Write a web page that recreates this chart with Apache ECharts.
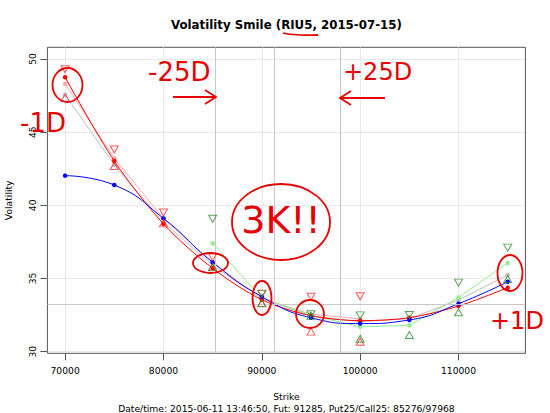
<!DOCTYPE html>
<html><head><meta charset="utf-8">
<script src="https://cdn.jsdelivr.net/npm/echarts@6/dist/echarts.min.js"></script>
<style>html,body{margin:0;padding:0;background:#fff}#c{width:550px;height:413px}</style>
</head><body><div id="c"></div>
<script>
// ---- data ----
const strikes   = [70000, 75000, 80000, 85000, 90000, 95000, 100000, 105000, 110000, 115000];
const fitBlue   = [42.03, 41.39, 39.11, 36.11, 33.76, 32.32, 31.92, 32.17, 33.28, 34.78];
const fitRed    = [48.75, 43.03, 38.73, 35.70, 33.55, 32.46, 32.12, 32.32, 33.12, 34.37];
const theorGray = [47.56, 42.76, 38.85, 35.90, 33.62, 32.45, 32.05, 32.25, 33.53, 35.24];
const midPink   = [48.31, 43.22, 39.10, 36.10, 33.62, 32.57, 32.24, null, null, null];
const askRed    = [49.30, 43.82, 39.51, 36.45, 33.95, 33.76, 33.79, null, null, null];
const bidRed    = [47.36, 42.69, 38.77, 35.78, 33.30, 31.37, 30.68, null, null, null];
const midGreen  = [null, null, null, 37.41, 33.66, 32.50, 31.70, 31.80, 33.70, 36.06];
const askGreen  = [null, null, null, 39.08, 33.97, 32.56, 32.48, 32.51, 34.72, 37.11];
const bidGreen  = [null, null, null, 35.76, 33.32, 32.45, 30.88, 31.14, 32.69, 34.97];
const xTicks = [70000, 80000, 90000, 100000, 110000];
const yTicks = [30, 35, 40, 45, 50];
const vLines = [85276, 91285, 97968];   // Put25, Fut, Call25
const hLines = [33.24];
const titleText = 'Volatility Smile (RIU5, 2015-07-15)';
const xName = 'Strike';
const yName = 'Volatility';
const subText = 'Date/time: 2015-06-11 13:46:50, Fut: 91285, Put25/Call25: 85276/97968';

function pairs(arr) {
  const out = [];
  strikes.forEach((k, i) => { if (arr[i] != null) out.push([k, arr[i]]); });
  return out;
}

const FONT = '"DejaVu Sans", sans-serif';
const HFONT = '"DejaVu Sans ExtraLight", "DejaVu Sans", sans-serif';
const G = { left: 47.4, right: 24.6, top: 47.3, bottom: 59.7 };
const cx = G.left + (550 - G.left - G.right) / 2;
const RED = '#ff0000', HAND = '#e60000';

function lineS(arr, color, smooth, z) {
  return { type: 'line', data: pairs(arr), smooth: smooth, showSymbol: true, symbol: 'circle',
    symbolSize: 4.5, itemStyle: { color: color }, lineStyle: { color: color, width: 1 },
    z: z, silent: true, animation: false };
}
function triS(arr, color, down) {
  return { type: 'scatter', data: pairs(arr), symbol: 'triangle', symbolRotate: down ? 180 : 0,
    symbolSize: [8, 7], itemStyle: { color: 'rgba(255,255,255,0)', borderColor: color, borderWidth: 1 },
    z: 6, silent: true, animation: false };
}
function hand(text, x, y, size, align) {
  return { type: 'text', x: x, y: y, z: 60, style: { text: text, font: size + 'px ' + HFONT, fill: HAND,
    textAlign: align || 'left', textVerticalAlign: 'middle' } };
}
function ell(cxp, cyp, rx, ry) {
  return { type: 'ellipse', z: 60, shape: { cx: cxp, cy: cyp, rx: rx, ry: ry }, style: { stroke: HAND, lineWidth: 1.8, fill: 'none' } };
}
function pl(points) {
  return { type: 'polyline', z: 60, shape: { points: points }, style: { stroke: HAND, lineWidth: 1.8, fill: 'none' } };
}

const chart = echarts.init(document.getElementById('c'), null, { renderer: 'svg' });
chart.setOption({
  animation: false,
  backgroundColor: '#fff',
  grid: { left: G.left, right: G.right, top: G.top, bottom: G.bottom, show: true,
          borderColor: '#555', borderWidth: 1, backgroundColor: 'transparent' },
  xAxis: {
    type: 'value', min: 68200, max: 116800,
    axisLine: { show: false },
    axisTick: { show: true, length: 7, customValues: xTicks, lineStyle: { color: '#555' } },
    axisLabel: { customValues: xTicks, fontSize: 9.2, fontFamily: FONT, color: '#000', margin: 13,
                 formatter: v => String(v) },
    splitLine: { show: true, lineStyle: { type: 'dotted', color: '#d3d3d3', width: 1 } }
  },
  yAxis: {
    type: 'value', min: 29.89, max: 50.8,
    axisLine: { show: false },
    axisTick: { show: true, length: 7, customValues: yTicks, lineStyle: { color: '#555' } },
    axisLabel: { customValues: yTicks, fontSize: 9.2, fontFamily: FONT, color: '#000', rotate: 90, margin: 10,
                 formatter: v => String(v) },
    splitLine: { show: true, lineStyle: { type: 'dotted', color: '#d3d3d3', width: 1 } }
  },
  series: [
    { type: 'line', data: [], silent: true, z: 1,
      markLine: { silent: true, symbol: ['none', 'none'], label: { show: false }, animation: false,
        lineStyle: { color: '#c8c8c8', type: 'solid', width: 1 },
        data: vLines.map(v => ({ xAxis: v })).concat(hLines.map(v => ({ yAxis: v }))) } },
    lineS(theorGray, '#bebebe', false, 2),
    lineS(midPink, '#ffaaaa', false, 2),
    lineS(midGreen, '#90ee90', false, 2),
    lineS(fitRed, RED, 0.3, 3),
    lineS(fitBlue, '#0000ff', 0.5, 4),
    triS(askRed, '#ff3030', true),
    triS(bidRed, '#ff3030', false),
    triS(askGreen, '#2e8b2e', true),
    triS(bidGreen, '#2e8b2e', false)
  ],
  graphic: [
    { type: 'text', x: cx, y: 25, z: 50, style: { text: titleText, font: 'bold 11.8px ' + FONT, fill: '#000', textAlign: 'center', textVerticalAlign: 'middle' } },
    { type: 'text', x: cx, y: 396, z: 50, style: { text: xName, font: '9.2px ' + FONT, fill: '#000', textAlign: 'center', textVerticalAlign: 'middle' } },
    { type: 'text', x: cx, y: 408, z: 50, style: { text: subText, font: '9.2px ' + FONT, fill: '#000', textAlign: 'center', textVerticalAlign: 'middle' } },
    { type: 'text', x: 8.5, y: 200.3, rotation: Math.PI / 2, z: 50, style: { text: yName, font: '9.2px ' + FONT, fill: '#000', textAlign: 'center', textVerticalAlign: 'middle' } },
    // hand-drawn annotations
    { type: 'bezierCurve', z: 60, shape: { x1: 283, y1: 33, cpx1: 295, cpy1: 36, cpx2: 308, cpy2: 35, x2: 318, y2: 35 }, style: { stroke: HAND, lineWidth: 1.8, fill: 'none' } },
    ell(67.5, 85, 15, 17),
    ell(281, 222, 49, 38),
    ell(210.5, 263, 17.5, 10),
    ell(262, 298, 9.5, 17),
    ell(310, 314, 14, 14),
    ell(510, 273, 12.5, 18),
    pl([[173, 97], [216, 97]]),
    pl([[205, 90], [216, 97], [205, 104]]),
    pl([[340, 98], [385, 98]]),
    pl([[351, 91], [340, 98], [351, 105]]),
    hand('-25D', 148, 72, 26),
    hand('+25D', 343, 72, 24),
    hand('-1D', 20, 123, 26),
    hand('+1D', 490, 321, 24),
    hand('3K!!', 281, 220, 38, 'center')
  ]
});
</script></body></html>
